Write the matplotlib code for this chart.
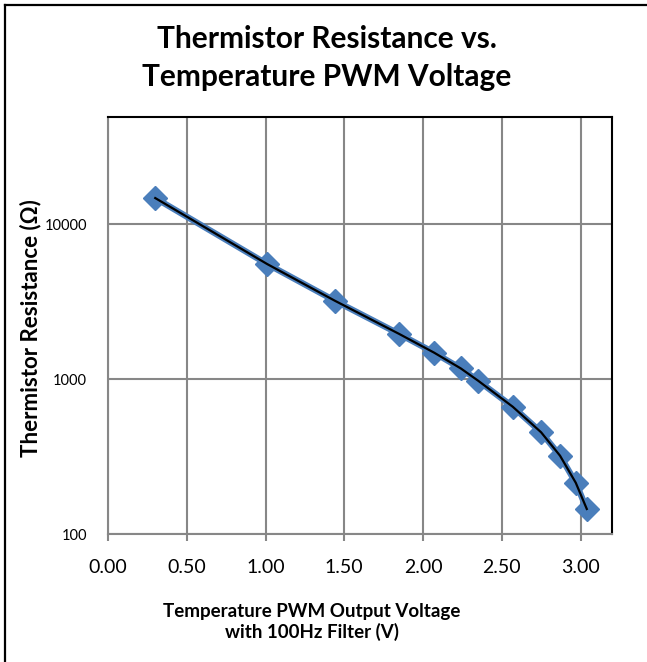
import matplotlib
matplotlib.use("Agg")
import matplotlib.pyplot as plt
from matplotlib.ticker import FixedLocator, FixedFormatter, NullLocator
import numpy as np

# Data
voltage = [0.30, 1.01, 1.44, 1.85, 2.07, 2.24, 2.35, 2.57, 2.75, 2.87, 2.97, 3.04]
resistance = [14700, 5520, 3200, 1950, 1480, 1170, 975, 662, 453, 320, 214, 145]

x_ticks = [0.0, 0.5, 1.0, 1.5, 2.0, 2.5, 3.0]
x_tick_labels = ["0.00", "0.50", "1.00", "1.50", "2.00", "2.50", "3.00"]
y_ticks = [100, 1000, 10000]
y_tick_labels = ["100", "1000", "10000"]

title = "Thermistor Resistance vs.\nTemperature PWM Voltage"
x_label = "Temperature PWM Output Voltage\nwith 100Hz Filter (V)"
y_label = "Thermistor Resistance (\u03a9)"

plt.rcParams['font.family'] = ['Lato', 'DejaVu Sans']

W, H = 647, 662
fig = plt.figure(figsize=(W / 100, H / 100), dpi=100)
fig.patch.set_facecolor("white")

# outer chart border (only top and left visible in reference)
fig.add_artist(plt.Line2D([5 / W, 5 / W], [0, 1 - 5 / H], color="black", lw=1.6,
                          transform=fig.transFigure))
fig.add_artist(plt.Line2D([5 / W, 1], [1 - 5 / H, 1 - 5 / H], color="black", lw=1.6,
                          transform=fig.transFigure))

ax = fig.add_axes([108 / W, 128 / H, 504 / W, 417 / H])
ax.set_yscale("log")
ax.set_xlim(0, 3.2)
ax.set_ylim(100, 10 ** (2 + 417 / 155))

grid_c = "#878787"
ax.xaxis.set_major_locator(FixedLocator(x_ticks))
ax.xaxis.set_major_formatter(FixedFormatter(x_tick_labels))
ax.yaxis.set_major_locator(FixedLocator(y_ticks))
ax.yaxis.set_major_formatter(FixedFormatter(y_tick_labels))
ax.yaxis.set_minor_locator(NullLocator())
ax.xaxis.set_minor_locator(NullLocator())
ax.grid(True, color=grid_c, lw=1.5)
ax.set_axisbelow(True)

for s in ["top", "right"]:
    ax.spines[s].set_color("black")
    ax.spines[s].set_linewidth(1.5)
for s in ["left", "bottom"]:
    ax.spines[s].set_color(grid_c)
    ax.spines[s].set_linewidth(1.5)

ax.tick_params(axis="x", direction="out", length=5, width=1.5, color=grid_c,
               labelsize=14, pad=13)
ax.tick_params(axis="y", direction="out", length=0, labelsize=10.5, pad=15)

ax.plot(voltage, resistance, color="#4A7EBB", lw=4.5, marker="D", markersize=12,
        markerfacecolor="#4A7EBB", markeredgecolor="#4A7EBB", zorder=3)
ax.plot(voltage, resistance, color="black", lw=1.6, zorder=4)

fig.text(0.505, 1 - 58 / H, title, ha="center", va="center", fontsize=21.5,
         fontweight="bold", linespacing=1.4)
fig.text(312 / W, 1 - 622 / H, x_label, ha="center", va="center", fontsize=13.5,
         fontweight="bold", linespacing=1.25)
fig.text(31 / W, 1 - 328 / H, y_label, ha="center", va="center", fontsize=16,
         fontweight="bold", rotation=90)

fig.savefig("out.png", dpi=100, facecolor="white")
